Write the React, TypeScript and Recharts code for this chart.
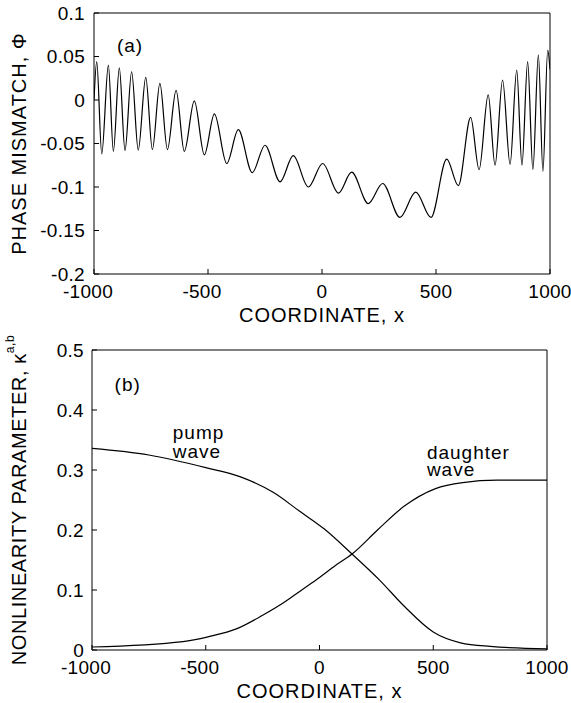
import { LineChart, Line, XAxis, YAxis, ReferenceDot } from "recharts";

// panel (a): phase mismatch, read at the peaks and troughs of the wave
const phaseX = [
  -1000, -988, -966, -937, -915, -889, -864, -835, -806, -773, -744, -711, -678, -640, -604, -560,
  -516, -472, -418, -367, -306, -250, -184, -126, -60, 3, 72, 130, 203, 266, 342, 411, 478, 547,
  598, 652, 689, 729, 759, 792, 825, 854, 877, 902, 925, 949, 969, 990, 1000,
];
const phaseY = [
  0.0, 0.044, -0.062, 0.04, -0.059, 0.037, -0.058, 0.0325, -0.0575, 0.026, -0.057, 0.019, -0.057,
  0.011, -0.059, -0.001, -0.063, -0.016, -0.073, -0.034, -0.0835, -0.052, -0.094, -0.064, -0.1,
  -0.073, -0.107, -0.083, -0.119, -0.096, -0.135, -0.106, -0.135, -0.068, -0.0985, -0.02, -0.08,
  0.006, -0.075, 0.023, -0.074, 0.0345, -0.075, 0.044, -0.08, 0.052, -0.082, 0.0575, 0.035,
];

// panel (b): nonlinearity parameters
const pumpX = [-1000, -750, -500, -350, -200, -90, 20, 143, 263, 375, 500, 620, 750, 1000];
const pumpY = [0.336, 0.325, 0.304, 0.289, 0.262, 0.232, 0.202, 0.16, 0.117, 0.072, 0.03, 0.012, 0.006, 0.002];
const daughterX = [-1000, -600, -490, -360, -250, -150, -75, 0, 70, 143, 255, 370, 510, 630, 780, 1000];
const daughterY = [0.005, 0.014, 0.022, 0.036, 0.058, 0.081, 0.101, 0.121, 0.141, 0.16, 0.2, 0.239, 0.269, 0.279, 0.283, 0.283];

const xTicks = [-1000, -500, 0, 500, 1000];
const phaseTicks = [-0.2, -0.15, -0.1, -0.05, 0, 0.05, 0.1];
const kappaTicks = [0, 0.1, 0.2, 0.3, 0.4, 0.5];

const phaseData = phaseX.map((x, i) => ({ x, y: phaseY[i] }));
const pumpData = pumpX.map((x, i) => ({ x, y: pumpY[i] }));
const daughterData = daughterX.map((x, i) => ({ x, y: daughterY[i] }));

const FONT = "'Liberation Sans', Arial, Helvetica, sans-serif";
const txt = { fontFamily: FONT, fontSize: 19, fill: "#000", style: { letterSpacing: 1 } };
const tickTxt = { fontFamily: FONT, fontSize: 19, fill: "#000", style: { letterSpacing: 0.3 } };
const black = { stroke: "#000", strokeWidth: 1 };

function XTick({ x, y, payload }: any) {
  const v = payload.value;
  // matlab hangs the minus sign left of the centred digits
  return (
    <text x={x + (v < 0 ? -6 : 0)} y={y} dy="0.71em" textAnchor="middle" {...tickTxt}>
      {v}
    </text>
  );
}

function YTick({ x, y, payload }: any) {
  return (
    <text x={x} y={y} textAnchor="end" dominantBaseline="central" {...tickTxt}>
      {payload.value}
    </text>
  );
}

function xLabel(props: any) {
  const vb = props.viewBox;
  return (
    <text x={vb.x + vb.width / 2} y={vb.y + 48} textAnchor="middle" {...txt} fontSize={20}>
      COORDINATE, x
    </text>
  );
}

function phaseLabel(props: any) {
  const vb = props.viewBox;
  const cx = vb.x + 19;
  const cy = vb.y + vb.height / 2;
  return (
    <text x={cx} y={cy} transform={`rotate(-90, ${cx}, ${cy})`} textAnchor="middle" dominantBaseline="central" {...txt} fontSize={20}>
      PHASE MISMATCH, Φ
    </text>
  );
}

function kappaLabel(props: any) {
  const vb = props.viewBox;
  const cx = vb.x + 19;
  const cy = vb.y + vb.height / 2;
  return (
    <text x={cx} y={cy} transform={`rotate(-90, ${cx}, ${cy})`} textAnchor="middle" dominantBaseline="central" {...txt} style={{ letterSpacing: 0.6 }} fontSize={20}>
      NONLINEARITY PARAMETER, κ
      <tspan dy={-9} fontSize={12}>a,b</tspan>
    </text>
  );
}

function stacked(lines: string[], gap: number) {
  return (props: any) => {
    const vb = props.viewBox || { x: 0, y: 0 };
    return (
      <text x={vb.x} y={vb.y} {...txt}>
        {lines.map((l, i) => (
          <tspan key={l + i} x={vb.x} dy={i === 0 ? 0 : gap}>
            {l}
          </tspan>
        ))}
      </text>
    );
  };
}

function centred(s: string) {
  return (props: any) => {
    const vb = props.viewBox || { x: 0, y: 0 };
    return (
      <text x={vb.x} y={vb.y} textAnchor="middle" dominantBaseline="central" {...txt}>
        {s}
      </text>
    );
  };
}

const frame = (domain: number[], yTicks: number[]) => [
  <XAxis key="xt" xAxisId="top" orientation="top" type="number" dataKey="x" domain={[-1000, 1000]} ticks={xTicks} height={1} tick={false} tickSize={-5} axisLine={black} tickLine={black} allowDataOverflow />,
  <YAxis key="yr" yAxisId="right" orientation="right" type="number" domain={domain} ticks={yTicks} width={1} tick={false} tickSize={-5} axisLine={black} tickLine={black} allowDataOverflow />,
];

export default function App() {
  return (
    <div style={{ position: "absolute", left: 0, top: 0, width: 571, height: 703, background: "#fff" }}>
      <LineChart width={571} height={330} margin={{ top: 12, right: 20, bottom: 0, left: 0 }}>
        <XAxis type="number" dataKey="x" domain={[-1000, 1000]} ticks={xTicks} height={56} tickSize={-5} tickMargin={16} tick={<XTick />} axisLine={black} tickLine={black} label={xLabel} allowDataOverflow />
        <YAxis type="number" domain={[-0.2, 0.1]} ticks={phaseTicks} width={94} tickSize={-5} tickMargin={14} tick={<YTick />} axisLine={black} tickLine={black} label={phaseLabel} allowDataOverflow />
        {frame([-0.2, 0.1], phaseTicks)}
        <Line data={phaseData} dataKey="y" type="monotone" stroke="#000" strokeWidth={1.2} dot={false} isAnimationActive={false} />
        <ReferenceDot x={-842} y={0.063} r={0} fill="none" stroke="none" label={centred("(a)")} />
      </LineChart>
      <div style={{ position: "absolute", left: 0, top: 330 }}>
        <LineChart width={571} height={373} margin={{ top: 19, right: 23, bottom: 0, left: 0 }}>
          <XAxis type="number" dataKey="x" domain={[-1000, 1000]} ticks={xTicks} height={53} tickSize={-5} tickMargin={16} tick={<XTick />} axisLine={black} tickLine={black} label={xLabel} allowDataOverflow />
          <YAxis type="number" domain={[0, 0.5]} ticks={kappaTicks} width={92} tickSize={-5} tickMargin={13} tick={<YTick />} axisLine={black} tickLine={black} label={kappaLabel} allowDataOverflow />
          {frame([0, 0.5], kappaTicks)}
          <Line data={pumpData} dataKey="y" type="monotone" stroke="#000" strokeWidth={1.2} dot={false} isAnimationActive={false} />
          <Line data={daughterData} dataKey="y" type="monotone" stroke="#000" strokeWidth={1.2} dot={false} isAnimationActive={false} />
          <ReferenceDot x={-843} y={0.442} r={0} fill="none" stroke="none" label={centred("(b)")} />
          <ReferenceDot x={-645} y={0.352} r={0} fill="none" stroke="none" label={stacked(["pump", "wave"], 19)} />
          <ReferenceDot x={472} y={0.318} r={0} fill="none" stroke="none" label={stacked(["daughter", "wave"], 17)} />
        </LineChart>
      </div>
    </div>
  );
}
